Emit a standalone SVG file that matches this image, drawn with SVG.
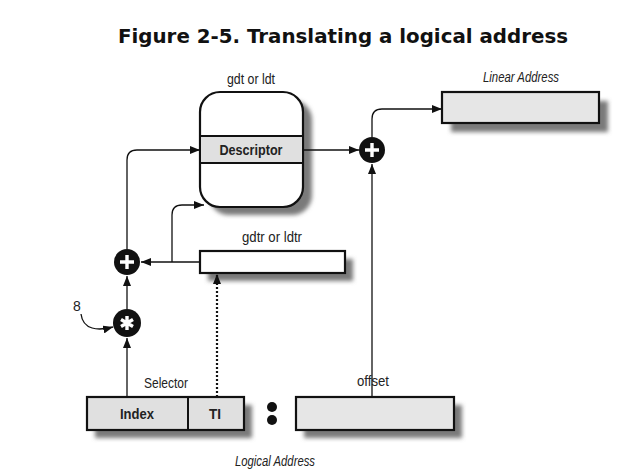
<svg xmlns="http://www.w3.org/2000/svg" width="632" height="474" viewBox="0 0 632 474">
<style>
.t{font-family:"Liberation Sans",Arial,sans-serif;font-size:15px;fill:#222;text-anchor:middle}
.b{font-weight:bold}
.i{font-style:italic}
.ln{fill:none;stroke:#111;stroke-width:1.3}
.box{stroke:#111;stroke-width:2.2}
.op{fill:#111}
.w{stroke:#fff;stroke-width:3.4;stroke-linecap:butt;fill:none}
.sd{fill:#7a7a7a}
</style>
<defs>
<marker id="ah" viewBox="0 0 10 8" refX="10" refY="4" markerWidth="10" markerHeight="8" markerUnits="userSpaceOnUse" orient="auto">
<path d="M0,0 L10,4 L0,8 z" fill="#111"/>
</marker>
<filter id="sh" x="-20%" y="-20%" width="150%" height="160%">
<feGaussianBlur stdDeviation="2"/>
</filter>
</defs>
<rect width="632" height="474" fill="#fff"/>
<text x="343" y="43" style="font-family:'DejaVu Sans',Verdana,sans-serif;font-weight:bold;font-size:19px;text-anchor:middle" fill="#111" textLength="450" lengthAdjust="spacingAndGlyphs">Figure 2-5. Translating a logical address</text>

<g id="gdt">
<rect x="209" y="100" width="103" height="115" rx="20" class="sd" filter="url(#sh)"/>
<rect x="200" y="92" width="103" height="115" rx="20" fill="#fff" class="box"/>
<rect x="201" y="136" width="101" height="27" fill="#e0e0e0"/>
<line x1="201" y1="136" x2="302" y2="136" stroke="#111" stroke-width="2"/>
<line x1="201" y1="163" x2="302" y2="163" stroke="#111" stroke-width="2"/>
<text x="251" y="155" class="t b" textLength="63" lengthAdjust="spacingAndGlyphs">Descriptor</text>
<text x="251" y="84" class="t" textLength="48" lengthAdjust="spacingAndGlyphs">gdt or ldt</text>
</g>

<g id="gdtr">
<rect x="208" y="259" width="145" height="22" class="sd" filter="url(#sh)"/>
<rect x="200" y="251" width="145" height="22" fill="#fff" class="box"/>
<text x="272" y="242" class="t" textLength="60" lengthAdjust="spacingAndGlyphs">gdtr or ldtr</text>
</g>

<g id="linear">
<rect x="451" y="101" width="157" height="31" class="sd" filter="url(#sh)"/>
<rect x="442" y="92" width="157" height="31" fill="#e6e6e6" class="box"/>
<text x="521" y="82" class="t i" textLength="76" lengthAdjust="spacingAndGlyphs">Linear Address</text>
</g>

<g id="selector">
<rect x="95" y="405" width="157" height="33" class="sd" filter="url(#sh)"/>
<rect x="87" y="397" width="157" height="33" fill="#e0e0e0" class="box"/>
<line x1="188" y1="397" x2="188" y2="430" stroke="#111" stroke-width="2"/>
<text x="137" y="419" class="t b" textLength="34" lengthAdjust="spacingAndGlyphs">Index</text>
<text x="215" y="419" class="t b" textLength="12" lengthAdjust="spacingAndGlyphs">TI</text>
<text x="166" y="388" class="t" textLength="44" lengthAdjust="spacingAndGlyphs">Selector</text>
</g>

<g id="colon">
<circle cx="272" cy="407" r="5" fill="#111"/>
<circle cx="272" cy="420" r="5" fill="#111"/>
</g>

<g id="offset">
<rect x="304" y="405" width="158" height="33" class="sd" filter="url(#sh)"/>
<rect x="296" y="397" width="158" height="33" fill="#e6e6e6" class="box"/>
<text x="373" y="386" class="t" textLength="32" lengthAdjust="spacingAndGlyphs">offset</text>
</g>

<text id="logical" x="275" y="466" class="t i" textLength="80" lengthAdjust="spacingAndGlyphs">Logical Address</text>

<g id="plus1">
<circle cx="127" cy="262" r="13" class="op"/>
<path d="M127,255 V269 M120,262 H134" class="w"/>
</g>

<g id="plus2">
<circle cx="372" cy="150" r="13" class="op"/>
<path d="M372,143 V157 M365,150 H379" class="w"/>
</g>

<g id="star">
<circle cx="127" cy="323" r="14" class="op"/>
<path d="M127,316 V330 M121,319.5 L133,326.5 M121,326.5 L133,319.5" class="w" stroke-width="3"/>
</g>

<text id="eight" x="77" y="311" class="t" style="font-size:14px">8</text>

<g id="connectors">
<path d="M127,397 V338" class="ln" marker-end="url(#ah)"/>
<path d="M127,309 V276" class="ln" marker-end="url(#ah)"/>
<path d="M127,249 V160 Q127,150 137,150 H200" class="ln" marker-end="url(#ah)"/>
<path d="M200,262 H141" class="ln" marker-end="url(#ah)"/>
<path d="M172,262 V215 Q172,205 182,205 H204" class="ln" marker-end="url(#ah)"/>
<path d="M217,397 V274" fill="none" stroke="#111" stroke-width="2.2" stroke-dasharray="2,2" marker-end="url(#ah)"/>
<path d="M303,150 H359" class="ln" marker-end="url(#ah)"/>
<path d="M372,397 V164" class="ln" marker-end="url(#ah)"/>
<path d="M372,137 V119 Q372,109 382,109 H442" class="ln" marker-end="url(#ah)"/>
<path d="M81,314 C83,330 98,331 113,327" class="ln" marker-end="url(#ah)"/>
</g>
</svg>
